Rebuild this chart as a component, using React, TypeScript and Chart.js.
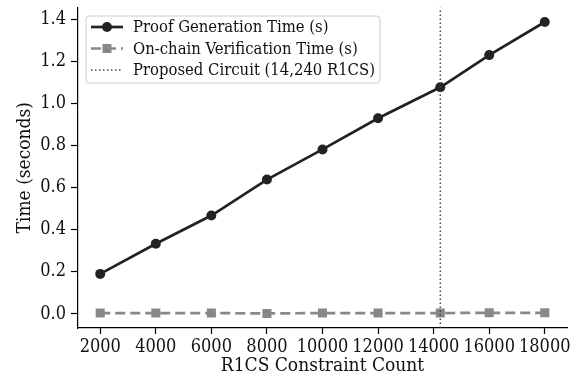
import React, { useEffect, useRef } from 'react';
import { Chart, registerables } from 'chart.js';

Chart.register(...registerables);

const constraintCounts = [2000, 4000, 6000, 8000, 10000, 12000, 14240, 16000, 18000];
const proofTimes = [0.19, 0.333, 0.467, 0.638, 0.781, 0.929, 1.076, 1.229, 1.386];
const verifyTimes = [0.004, 0.004, 0.004, 0.002, 0.004, 0.004, 0.004, 0.005, 0.005];
const proposedCircuit = 14240;
const xTicks = [2000, 4000, 6000, 8000, 10000, 12000, 14000, 16000, 18000];
const yTicks = [0, 0.2, 0.4, 0.6, 0.8, 1.0, 1.2, 1.4];
const xRange = [1200, 18800];
const yRange = [-0.067, 1.455];
const seriesLabels = [
  'Proof Generation Time (s)',
  'On-chain Verification Time (s)',
  'Proposed Circuit (14,240 R1CS)',
];

const FONT = '"DejaVu Serif Condensed", "DejaVu Serif", serif';
const DARK = '#222222';
const GRAY = '#888888';
const VLINE = '#444444';

const legendPlugin = {
  id: 'mplLegend',
  afterDraw(chart: any) {
    const ctx = chart.ctx;
    const area = chart.chartArea;
    ctx.save();
    ctx.font = `16.5px ${FONT}`;
    const textW = Math.max(...seriesLabels.map((t) => ctx.measureText(t).width));
    const x0 = area.left + 8;
    const y0 = area.top + 8.5;
    const handleX = x0 + 5;
    const handleLen = 32;
    const textX = handleX + handleLen + 10;
    const rowH = 21.5;
    const w = textX - x0 + textW + 5;
    const h = 11 + rowH * 2 + 13;
    ctx.beginPath();
    const r = 3;
    ctx.moveTo(x0 + r, y0);
    ctx.arcTo(x0 + w, y0, x0 + w, y0 + h, r);
    ctx.arcTo(x0 + w, y0 + h, x0, y0 + h, r);
    ctx.arcTo(x0, y0 + h, x0, y0, r);
    ctx.arcTo(x0, y0, x0 + w, y0, r);
    ctx.closePath();
    ctx.fillStyle = 'rgba(255,255,255,0.85)';
    ctx.fill();
    ctx.strokeStyle = '#cccccc';
    ctx.lineWidth = 1;
    ctx.stroke();

    seriesLabels.forEach((label, i) => {
      const cy = y0 + 11 + i * rowH;
      const mx = handleX + handleLen / 2;
      ctx.save();
      if (i === 0) {
        ctx.strokeStyle = DARK;
        ctx.lineWidth = 2.7;
        ctx.beginPath();
        ctx.moveTo(handleX, cy);
        ctx.lineTo(handleX + handleLen, cy);
        ctx.stroke();
        ctx.fillStyle = DARK;
        ctx.beginPath();
        ctx.arc(mx, cy, 5, 0, Math.PI * 2);
        ctx.fill();
      } else if (i === 1) {
        ctx.strokeStyle = GRAY;
        ctx.lineWidth = 2.7;
        ctx.setLineDash([10, 5]);
        ctx.beginPath();
        ctx.moveTo(handleX, cy);
        ctx.lineTo(handleX + handleLen, cy);
        ctx.stroke();
        ctx.fillStyle = GRAY;
        ctx.fillRect(mx - 4.5, cy - 4.5, 9, 9);
      } else {
        ctx.strokeStyle = VLINE;
        ctx.lineWidth = 1.5;
        ctx.setLineDash([1.5, 2.5]);
        ctx.beginPath();
        ctx.moveTo(handleX, cy);
        ctx.lineTo(handleX + handleLen, cy);
        ctx.stroke();
      }
      ctx.restore();
      ctx.fillStyle = '#111111';
      ctx.textBaseline = 'middle';
      ctx.textAlign = 'left';
      ctx.fillText(label, textX, cy + 1);
    });
    ctx.restore();
  },
};

export default function App() {
  const ref = useRef<HTMLCanvasElement | null>(null);
  useEffect(() => {
    document.body.style.margin = '0';
    const canvas = ref.current;
    if (!canvas) return;
    const chart = new Chart(canvas, {
      type: 'line',
      data: {
        datasets: [
          {
            label: seriesLabels[2],
            data: [
              { x: proposedCircuit, y: yRange[0] },
              { x: proposedCircuit, y: yRange[1] },
            ],
            borderColor: VLINE,
            borderWidth: 1.5,
            borderDash: [1.5, 2.5],
            pointRadius: 0,
            order: 0,
          },
          {
            label: seriesLabels[0],
            data: constraintCounts.map((x, i) => ({ x, y: proofTimes[i] })),
            borderColor: DARK,
            backgroundColor: DARK,
            borderWidth: 2.7,
            pointRadius: 5,
            pointStyle: 'circle',
            pointBorderWidth: 0,
            order: 1,
          },
          {
            label: seriesLabels[1],
            data: constraintCounts.map((x, i) => ({ x, y: verifyTimes[i] })),
            borderColor: GRAY,
            backgroundColor: GRAY,
            borderWidth: 2.7,
            borderDash: [10, 5],
            pointRadius: 6.4,
            pointStyle: 'rect',
            pointBorderWidth: 0,
            order: 2,
          },
        ],
      },
      options: {
        animation: false,
        responsive: false,
        maintainAspectRatio: false,
        layout: { padding: { top: 7.5, right: 14, left: 0, bottom: 0 } },
        plugins: {
          legend: { display: false },
          tooltip: { enabled: false },
        },
        scales: {
          x: {
            type: 'linear',
            min: xRange[0],
            max: xRange[1],
            afterBuildTicks: (scale: any) => {
              scale.ticks = xTicks.map((v) => ({ value: v }));
            },
            afterFit: (scale: any) => {
              scale.height = 51;
              scale.paddingLeft = 0;
              scale.paddingRight = 0;
            },
            grid: {
              display: true,
              drawOnChartArea: false,
              drawTicks: true,
              tickLength: 6,
              tickWidth: 1.2,
              tickColor: '#000000',
            },
            border: { display: true, color: '#000000', width: 1.2 },
            ticks: {
              color: '#111111',
              font: { family: FONT, size: 18 },
              padding: 3,
              maxRotation: 0,
              autoSkip: false,
              callback: (v: any) => String(v),
            },
            title: {
              display: true,
              text: 'R1CS Constraint Count',
              color: '#111111',
              font: { family: FONT, size: 19 },
              padding: { top: 0, bottom: 1.5 },
            },
          },
          y: {
            type: 'linear',
            min: yRange[0],
            max: yRange[1],
            afterBuildTicks: (scale: any) => {
              scale.ticks = yTicks.map((v) => ({ value: v }));
            },
            afterFit: (scale: any) => {
              scale.width = 78;
              scale.paddingTop = 0;
              scale.paddingBottom = 0;
            },
            grid: {
              display: true,
              drawOnChartArea: false,
              drawTicks: true,
              tickLength: 7,
              tickWidth: 1.2,
              tickColor: '#000000',
            },
            border: { display: true, color: '#000000', width: 1.2 },
            ticks: {
              color: '#111111',
              font: { family: FONT, size: 18 },
              padding: 5,
              autoSkip: false,
              callback: (v: any) => Number(v).toFixed(1),
            },
            title: {
              display: true,
              text: 'Time (seconds)',
              color: '#111111',
              font: { family: FONT, size: 19 },
              padding: { top: 13.5, bottom: 0 },
            },
          },
        },
      },
      plugins: [legendPlugin],
    } as any);
    return () => chart.destroy();
  }, []);
  return (
    <div style={{ width: 581, height: 379 }}>
      <canvas ref={ref} width={581} height={379} style={{ display: 'block' }} />
    </div>
  );
}
